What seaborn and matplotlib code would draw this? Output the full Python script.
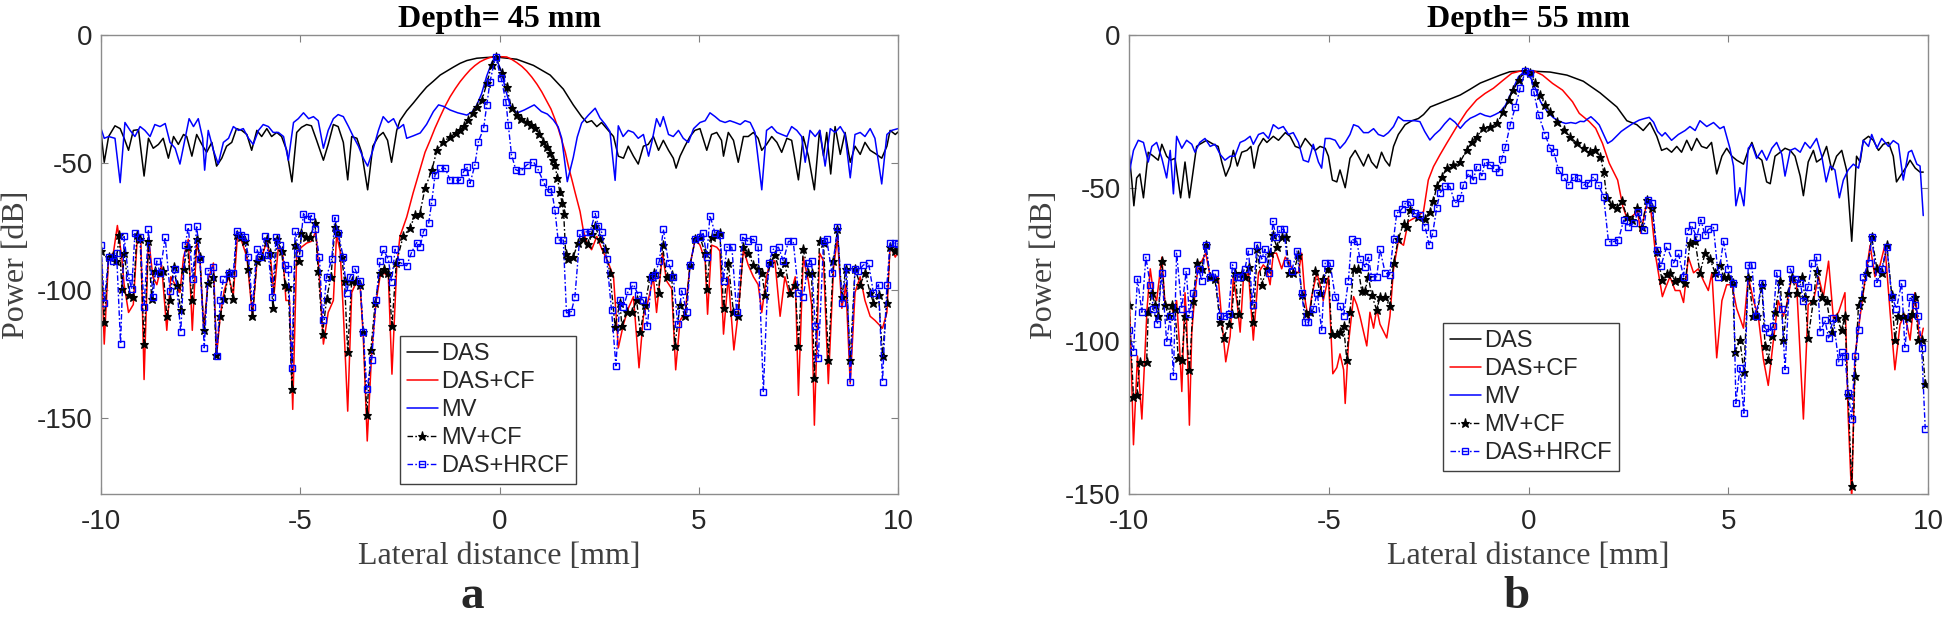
import numpy as np
import matplotlib
matplotlib.use("Agg")
import matplotlib.pyplot as plt
import seaborn as sns

# ---- panel a : depth 45 mm, (lateral distance mm, power dB) ----
a_das = [(-10.0,-38.2),(-9.92,-49.9),(-9.81,-39.8),(-9.65,-35.6),(-9.52,-36.7),(-9.42,-40.5),(-9.31,-45.2),(-9.19,-37.4),(-9.06,-37.1),(-8.92,-55.3),(-8.81,-40.5),(-8.69,-44.4),(-8.56,-42.9),(-8.44,-40.5),(-8.31,-48.3),(-8.18,-39.8),(-8.06,-42.9),(-7.93,-39.0),(-7.85,-39.8),(-7.72,-47.5),(-7.60,-39.0),(-7.47,-42.9),(-7.35,-46.0),(-7.22,-42.1),(-7.10,-51.4),(-6.97,-48.3),(-6.85,-43.6),(-6.72,-42.1),(-6.60,-36.7),(-6.47,-37.4),(-6.34,-39.0),(-6.22,-45.2),(-6.09,-37.4),(-5.97,-39.8),(-5.84,-36.7),(-5.72,-39.8),(-5.59,-38.2),(-5.47,-39.8),(-5.34,-45.2),(-5.21,-57.6),(-5.09,-38.2),(-4.97,-36.2),(-4.84,-35.1),(-4.72,-35.6),(-4.59,-41.3),(-4.42,-49.1),(-4.30,-42.9),(-4.17,-35.1),(-4.05,-35.9),(-3.92,-42.1),(-3.81,-56.8),(-3.71,-39.8),(-3.58,-40.5),(-3.46,-46.0),(-3.31,-60.7),(-3.18,-43.6),(-3.04,-39.8),(-2.92,-38.2),(-2.81,-41.3),(-2.71,-49.9),(-2.58,-37.4),(-2.50,-33.6),(-2.33,-29.7),(-2.16,-26.6),(-2.00,-23.5),(-1.83,-20.4),(-1.66,-18.1),(-1.49,-15.7),(-1.33,-14.2),(-1.16,-12.6),(-0.99,-11.1),(-0.82,-10.0),(-0.57,-9.1),(-0.32,-8.8),(-0.10,-8.6),(0.43,-9.5),(0.85,-11.9),(1.27,-15.7),(1.60,-21.2),(1.85,-27.4),(2.06,-32.0),(2.19,-34.3),(2.31,-33.6),(2.44,-35.9),(2.56,-34.3),(2.69,-36.7),(2.86,-39.8),(2.98,-47.5),(3.11,-48.3),(3.23,-43.6),(3.36,-47.5),(3.48,-50.6),(3.61,-43.6),(3.73,-42.9),(3.86,-39.8),(3.99,-45.2),(4.11,-41.3),(4.24,-45.2),(4.36,-48.3),(4.43,-52.2),(4.53,-47.5),(4.65,-43.6),(4.78,-39.8),(4.90,-37.4),(5.03,-36.7),(5.20,-45.2),(5.32,-39.0),(5.45,-38.2),(5.57,-41.3),(5.62,-47.5),(5.74,-38.2),(5.87,-41.3),(5.99,-49.9),(6.12,-39.8),(6.24,-39.8),(6.37,-38.2),(6.49,-40.5),(6.58,-45.2),(6.70,-42.9),(6.83,-39.8),(6.96,-42.1),(7.08,-46.0),(7.21,-40.5),(7.33,-41.3),(7.50,-56.8),(7.62,-39.8),(7.75,-47.5),(7.90,-60.7),(8.03,-37.4),(8.13,-47.5),(8.21,-38.2),(8.31,-54.5),(8.42,-35.9),(8.55,-46.8),(8.67,-38.2),(8.80,-49.9),(8.92,-43.6),(9.05,-46.8),(9.17,-42.1),(9.30,-45.2),(9.46,-46.8),(9.59,-48.3),(9.72,-43.6),(9.80,-37.4),(9.93,-39.0),(10.0,-38.0)]

a_cf = [(-10.0,-84.0),(-9.92,-121.2),(-9.81,-87.1),(-9.69,-85.5),(-9.59,-74.7),(-9.48,-87.1),(-9.42,-97.9),(-9.31,-108.8),(-9.19,-105.7),(-9.09,-79.3),(-9.0,-80.9),(-8.92,-135.1),(-8.81,-79.3),(-8.70,-94.8),(-8.60,-97.9),(-8.48,-90.2),(-8.35,-115.8),(-8.25,-94.8),(-8.14,-97.9),(-8.02,-101.0),(-7.93,-87.1),(-7.81,-80.1),(-7.71,-115.8),(-7.60,-81.6),(-7.52,-87.1),(-7.42,-115.8),(-7.31,-95.6),(-7.18,-89.4),(-7.10,-125.8),(-7.01,-110.3),(-6.91,-100.3),(-6.80,-94.8),(-6.68,-101.8),(-6.58,-79.3),(-6.47,-80.9),(-6.34,-87.1),(-6.20,-110.3),(-6.09,-89.4),(-5.97,-87.1),(-5.84,-80.9),(-5.74,-88.6),(-5.66,-101.8),(-5.55,-83.2),(-5.44,-85.5),(-5.36,-104.1),(-5.27,-104.1),(-5.19,-146.8),(-5.09,-85.5),(-4.97,-83.2),(-4.84,-81.6),(-4.72,-80.9),(-4.61,-77.0),(-4.52,-94.8),(-4.42,-121.2),(-4.30,-108.8),(-4.17,-104.1),(-4.09,-78.5),(-4.00,-84.7),(-3.92,-108.8),(-3.81,-147.5),(-3.71,-101.0),(-3.60,-97.1),(-3.50,-97.9),(-3.42,-118.1),(-3.32,-159.2),(-3.21,-125.1),(-3.10,-104.9),(-3.0,-94.8),(-2.90,-93.3),(-2.79,-94.8),(-2.70,-133.0),(-2.58,-90.9),(-2.50,-79.0),(-2.33,-71.4),(-2.17,-62.0),(-2.0,-53.0),(-1.87,-46.0),(-1.74,-41.2),(-1.62,-36.5),(-1.49,-32.0),(-1.37,-28.0),(-1.24,-24.2),(-1.11,-21.0),(-0.99,-18.3),(-0.86,-15.8),(-0.74,-13.7),(-0.62,-12.0),(-0.49,-10.5),(-0.36,-9.5),(-0.24,-8.8),(-0.10,-8.5),(0.05,-8.5),(0.18,-8.6),(0.30,-9.5),(0.43,-10.8),(0.56,-12.3),(0.68,-14.1),(0.81,-16.5),(0.94,-19.3),(1.06,-22.3),(1.18,-25.8),(1.29,-29.0),(1.39,-33.0),(1.48,-37.0),(1.56,-41.2),(1.65,-46.0),(1.73,-51.6),(1.82,-57.0),(1.90,-62.0),(2.02,-69.2),(2.10,-76.4),(2.19,-81.6),(2.31,-84.2),(2.44,-79.0),(2.57,-84.0),(2.73,-89.3),(2.86,-94.8),(2.98,-122.7),(3.11,-113.4),(3.23,-107.2),(3.36,-102.6),(3.50,-130.5),(3.61,-110.3),(3.73,-104.1),(3.86,-94.8),(3.94,-108.8),(4.09,-85.5),(4.19,-96.4),(4.32,-99.5),(4.42,-131.3),(4.53,-111.9),(4.66,-108.8),(4.78,-90.2),(4.91,-80.1),(5.03,-82.4),(5.16,-88.6),(5.22,-109.5),(5.32,-82.4),(5.45,-83.2),(5.53,-84.7),(5.62,-117.3),(5.74,-94.8),(5.88,-123.5),(5.99,-108.8),(6.12,-84.0),(6.24,-90.2),(6.37,-94.8),(6.49,-97.9),(6.58,-108.8),(6.69,-95.6),(6.79,-88.6),(6.91,-88.6),(7.04,-110.3),(7.16,-94.8),(7.29,-102.6),(7.42,-94.8),(7.50,-141.3),(7.62,-87.1),(7.75,-96.4),(7.83,-105.7),(7.90,-153.0),(8.03,-85.5),(8.13,-88.6),(8.25,-136.7),(8.38,-91.7),(8.48,-79.3),(8.59,-107.2),(8.69,-97.9),(8.80,-136.7),(8.92,-101.0),(9.05,-94.8),(9.17,-104.1),(9.30,-110.3),(9.42,-111.9),(9.61,-115.0),(9.72,-108.8),(9.80,-82.4),(9.93,-87.1),(10.0,-85.0)]

a_mv = [(-10.0,-36.7),(-9.92,-40.5),(-9.81,-39.8),(-9.65,-40.5),(-9.52,-57.9),(-9.40,-34.3),(-9.27,-37.4),(-9.15,-39.8),(-9.02,-35.9),(-8.90,-37.4),(-8.77,-39.8),(-8.65,-35.1),(-8.52,-35.9),(-8.39,-34.7),(-8.27,-42.1),(-8.14,-44.4),(-8.02,-50.6),(-7.89,-40.5),(-7.79,-32.8),(-7.68,-35.9),(-7.56,-32.8),(-7.45,-40.5),(-7.40,-53.0),(-7.31,-37.4),(-7.18,-45.2),(-7.06,-50.6),(-6.93,-42.1),(-6.80,-40.5),(-6.68,-35.9),(-6.55,-37.4),(-6.43,-36.7),(-6.30,-40.5),(-6.18,-42.9),(-6.05,-37.4),(-5.93,-35.1),(-5.80,-35.9),(-5.68,-38.2),(-5.55,-38.2),(-5.42,-39.8),(-5.30,-49.1),(-5.17,-34.3),(-5.05,-32.8),(-4.92,-30.5),(-4.79,-32.8),(-4.67,-32.0),(-4.55,-33.6),(-4.42,-44.4),(-4.30,-37.4),(-4.17,-32.8),(-4.05,-31.2),(-3.92,-32.0),(-3.79,-35.9),(-3.67,-39.8),(-3.54,-43.6),(-3.42,-48.3),(-3.31,-51.4),(-3.18,-45.2),(-3.04,-37.4),(-2.92,-32.0),(-2.79,-34.3),(-2.66,-32.8),(-2.54,-36.7),(-2.41,-35.1),(-2.33,-40.5),(-2.16,-39.5),(-1.99,-38.4),(-1.83,-35.0),(-1.66,-30.0),(-1.53,-27.4),(-1.40,-28.0),(-1.24,-29.4),(-1.05,-30.5),(-0.82,-31.4),(-0.68,-30.0),(-0.57,-27.4),(-0.45,-23.0),(-0.32,-16.0),(-0.20,-11.0),(-0.10,-8.5),(0.04,-14.0),(0.16,-22.0),(0.29,-28.7),(0.45,-30.5),(0.62,-29.4),(0.87,-27.4),(1.05,-30.0),(1.20,-31.0),(1.35,-33.3),(1.47,-36.0),(1.56,-40.5),(1.70,-57.5),(1.85,-48.0),(1.95,-40.0),(2.06,-34.5),(2.23,-31.4),(2.40,-28.7),(2.52,-32.5),(2.65,-35.0),(2.77,-37.8),(2.90,-57.0),(2.98,-35.6),(3.10,-39.8),(3.23,-37.4),(3.36,-38.2),(3.48,-40.5),(3.61,-39.0),(3.74,-47.5),(3.82,-42.1),(3.94,-32.8),(4.03,-35.9),(4.11,-32.0),(4.24,-39.0),(4.36,-39.8),(4.49,-37.4),(4.61,-40.5),(4.74,-42.1),(4.87,-36.7),(5.03,-34.3),(5.16,-33.6),(5.28,-30.5),(5.41,-32.0),(5.53,-33.6),(5.66,-34.3),(5.78,-33.6),(5.91,-34.3),(6.04,-35.1),(6.16,-33.6),(6.29,-34.3),(6.41,-38.2),(6.58,-60.7),(6.70,-37.4),(6.83,-35.9),(6.96,-38.2),(7.08,-39.0),(7.21,-39.8),(7.33,-35.9),(7.46,-37.4),(7.58,-39.8),(7.67,-49.9),(7.79,-37.4),(7.92,-39.8),(8.04,-37.4),(8.17,-51.4),(8.30,-36.7),(8.42,-38.2),(8.55,-35.9),(8.67,-39.0),(8.80,-56.0),(8.92,-39.0),(9.05,-38.2),(9.17,-39.8),(9.30,-36.7),(9.42,-40.5),(9.59,-58.4),(9.72,-39.0),(9.84,-37.4),(10.0,-36.7)]

a_mvcf = [(-10.0,-84.8),(-9.92,-112.6),(-9.81,-87.1),(-9.71,-86.8),(-9.62,-88.6),(-9.54,-78.5),(-9.48,-99.5),(-9.42,-85.5),(-9.29,-101.8),(-9.19,-102.6),(-9.10,-78.5),(-9.02,-80.1),(-8.92,-121.2),(-8.81,-80.9),(-8.73,-103.4),(-8.65,-92.5),(-8.52,-93.3),(-8.44,-92.5),(-8.35,-110.3),(-8.27,-104.1),(-8.18,-90.9),(-8.10,-97.9),(-8.0,-108.0),(-7.93,-91.7),(-7.83,-83.2),(-7.72,-104.1),(-7.60,-80.1),(-7.52,-87.1),(-7.42,-115.8),(-7.31,-97.1),(-7.18,-94.8),(-7.11,-125.5),(-7.01,-110.3),(-6.91,-103.4),(-6.80,-93.3),(-6.70,-103.4),(-6.60,-78.5),(-6.50,-79.3),(-6.39,-80.9),(-6.30,-91.7),(-6.20,-110.3),(-6.09,-88.6),(-5.97,-87.1),(-5.84,-80.1),(-5.76,-85.5),(-5.69,-107.2),(-5.59,-80.1),(-5.47,-84.7),(-5.38,-97.9),(-5.30,-98.7),(-5.21,-139.0),(-5.13,-82.4),(-5.03,-88.6),(-4.97,-77.8),(-4.86,-79.3),(-4.76,-79.3),(-4.63,-73.9),(-4.55,-92.5),(-4.44,-117.3),(-4.34,-103.4),(-4.23,-94.8),(-4.13,-75.4),(-4.05,-77.8),(-3.96,-87.1),(-3.89,-96.4),(-3.81,-124.3),(-3.71,-96.4),(-3.60,-96.4),(-3.50,-97.9),(-3.42,-116.5),(-3.33,-149.1),(-3.23,-123.5),(-3.12,-104.9),(-3.0,-93.3),(-2.90,-91.7),(-2.79,-93.3),(-2.70,-114.2),(-2.59,-89.3),(-2.42,-79.0),(-2.25,-75.8),(-2.12,-70.6),(-2.0,-70.0),(-1.87,-60.1),(-1.70,-53.0),(-1.57,-45.1),(-1.41,-41.8),(-1.24,-39.9),(-1.10,-38.5),(-0.99,-37.3),(-0.88,-35.5),(-0.78,-33.3),(-0.67,-30.5),(-0.57,-28.1),(-0.44,-25.5),(-0.32,-19.0),(-0.20,-11.8),(-0.10,-8.5),(0.05,-15.0),(0.18,-20.2),(0.30,-28.7),(0.43,-31.4),(0.55,-33.0),(0.68,-34.0),(0.79,-35.2),(0.89,-36.6),(1.0,-39.0),(1.10,-41.8),(1.18,-44.0),(1.26,-46.4),(1.33,-49.0),(1.39,-51.0),(1.45,-56.0),(1.51,-61.4),(1.57,-66.0),(1.61,-70.0),(1.66,-86.0),(1.72,-88.0),(1.85,-87.0),(1.97,-81.4),(2.10,-80.0),(2.23,-82.0),(2.32,-78.0),(2.40,-75.0),(2.52,-80.0),(2.65,-84.0),(2.77,-93.4),(2.90,-114.4),(3.02,-105.0),(3.07,-114.2),(3.19,-108.8),(3.32,-108.8),(3.44,-104.1),(3.53,-116.5),(3.65,-105.7),(3.78,-94.8),(3.88,-93.3),(3.99,-101.0),(4.09,-82.4),(4.19,-94.8),(4.32,-94.0),(4.40,-121.9),(4.53,-105.7),(4.66,-110.3),(4.78,-90.2),(4.91,-80.1),(5.03,-79.3),(5.16,-85.5),(5.20,-99.5),(5.32,-79.3),(5.45,-78.5),(5.53,-77.8),(5.62,-107.2),(5.74,-89.4),(5.87,-108.8),(5.99,-110.3),(6.12,-83.2),(6.24,-85.5),(6.37,-90.2),(6.49,-91.7),(6.58,-93.3),(6.66,-101.8),(6.79,-89.4),(6.91,-86.3),(7.04,-93.3),(7.16,-89.4),(7.29,-101.0),(7.42,-97.9),(7.50,-121.9),(7.62,-84.0),(7.75,-93.3),(7.83,-93.3),(7.90,-134.4),(8.03,-80.9),(8.13,-81.6),(8.25,-127.4),(8.38,-88.6),(8.48,-76.2),(8.59,-102.6),(8.69,-91.7),(8.80,-127.4),(8.92,-91.7),(9.05,-97.9),(9.17,-93.3),(9.30,-101.0),(9.38,-104.9),(9.51,-101.8),(9.61,-125.8),(9.72,-104.9),(9.80,-83.2),(9.93,-84.7),(10.0,-84.0)]

a_hrcf = [(-10.0,-82.4),(-9.92,-104.9),(-9.81,-87.1),(-9.69,-88.6),(-9.61,-85.5),(-9.51,-121.2),(-9.42,-79.0),(-9.31,-94.8),(-9.23,-99.5),(-9.15,-77.8),(-9.02,-79.3),(-8.92,-106.5),(-8.81,-76.2),(-8.70,-102.6),(-8.60,-88.6),(-8.52,-93.3),(-8.39,-79.3),(-8.27,-100.3),(-8.14,-91.7),(-8.0,-116.5),(-7.89,-82.4),(-7.81,-75.4),(-7.70,-95.6),(-7.60,-74.7),(-7.52,-87.8),(-7.41,-122.7),(-7.31,-92.5),(-7.18,-90.9),(-7.10,-125.8),(-7.01,-104.1),(-6.93,-95.6),(-6.80,-93.3),(-6.68,-93.3),(-6.60,-77.0),(-6.50,-78.5),(-6.39,-79.3),(-6.30,-87.1),(-6.20,-106.5),(-6.09,-84.0),(-6.01,-87.1),(-5.88,-79.0),(-5.80,-86.3),(-5.70,-102.6),(-5.61,-79.3),(-5.51,-82.4),(-5.38,-90.2),(-5.30,-91.7),(-5.21,-130.5),(-5.13,-77.0),(-5.02,-85.5),(-4.92,-70.0),(-4.84,-72.3),(-4.72,-70.8),(-4.63,-76.2),(-4.52,-87.1),(-4.44,-111.9),(-4.34,-94.8),(-4.21,-87.8),(-4.13,-71.6),(-4.05,-77.8),(-3.92,-87.1),(-3.84,-101.0),(-3.75,-94.8),(-3.63,-91.7),(-3.50,-96.4),(-3.42,-116.5),(-3.33,-139.0),(-3.21,-127.4),(-3.10,-104.1),(-3.0,-88.6),(-2.92,-84.0),(-2.79,-87.9),(-2.71,-96.9),(-2.62,-84.0),(-2.50,-89.2),(-2.33,-90.5),(-2.21,-85.3),(-2.08,-81.4),(-1.99,-83.0),(-1.91,-77.1),(-1.78,-73.9),(-1.70,-65.4),(-1.62,-55.0),(-1.49,-52.3),(-1.36,-52.3),(-1.24,-57.0),(-1.11,-57.0),(-0.99,-57.0),(-0.90,-53.6),(-0.82,-51.6),(-0.74,-58.2),(-0.62,-51.0),(-0.53,-41.8),(-0.40,-36.6),(-0.32,-27.4),(-0.24,-18.3),(-0.10,-8.5),(0.04,-17.0),(0.16,-26.1),(0.22,-35.3),(0.30,-47.0),(0.41,-52.9),(0.53,-53.5),(0.68,-51.0),(0.85,-49.7),(0.96,-52.5),(1.10,-57.5),(1.22,-61.4),(1.30,-60.2),(1.39,-68.6),(1.47,-80.4),(1.60,-80.4),(1.68,-109.0),(1.80,-108.5),(1.89,-102.9),(2.02,-77.8),(2.14,-77.2),(2.27,-77.2),(2.40,-70.0),(2.48,-75.0),(2.56,-77.2),(2.69,-87.9),(2.81,-107.9),(2.92,-129.7),(3.02,-104.1),(3.11,-106.5),(3.23,-100.3),(3.36,-97.9),(3.48,-101.8),(3.61,-104.1),(3.71,-114.2),(3.82,-94.8),(3.90,-94.0),(4.01,-88.6),(4.11,-76.2),(4.24,-89.4),(4.36,-94.8),(4.47,-113.4),(4.57,-100.3),(4.70,-108.8),(4.78,-90.2),(4.91,-80.1),(5.03,-79.3),(5.11,-77.8),(5.20,-87.1),(5.28,-70.8),(5.41,-77.8),(5.53,-78.5),(5.62,-96.4),(5.70,-83.2),(5.83,-83.2),(5.95,-108.8),(6.10,-79.3),(6.24,-80.9),(6.37,-80.1),(6.49,-83.2),(6.62,-139.8),(6.75,-89.4),(6.87,-84.0),(7.00,-83.2),(7.12,-88.6),(7.25,-80.9),(7.37,-80.9),(7.50,-101.0),(7.62,-102.6),(7.75,-89.4),(7.83,-88.6),(7.92,-114.2),(8.00,-126.6),(8.13,-80.9),(8.21,-80.1),(8.34,-93.3),(8.48,-75.4),(8.59,-104.9),(8.71,-90.9),(8.80,-135.9),(8.92,-91.7),(9.00,-92.5),(9.13,-90.2),(9.26,-89.4),(9.38,-101.0),(9.51,-97.9),(9.61,-135.9),(9.72,-97.9),(9.80,-81.6),(9.93,-81.6),(10.0,-82.0)]

# ---- panel b : depth 55 mm ----
b_das = [(-10.0,-38.3),(-9.93,-48.0),(-9.88,-55.8),(-9.81,-46.7),(-9.73,-45.4),(-9.64,-53.2),(-9.52,-38.3),(-9.39,-39.6),(-9.27,-40.9),(-9.18,-35.7),(-9.06,-39.6),(-8.96,-40.9),(-8.85,-40.3),(-8.71,-53.2),(-8.60,-41.5),(-8.49,-53.2),(-8.31,-36.4),(-8.23,-35.7),(-8.06,-34.4),(-7.89,-35.7),(-7.77,-36.4),(-7.68,-41.5),(-7.58,-46.1),(-7.47,-42.8),(-7.39,-37.7),(-7.29,-42.8),(-7.18,-38.3),(-7.05,-37.7),(-6.95,-36.4),(-6.87,-43.5),(-6.76,-36.4),(-6.64,-33.8),(-6.55,-35.1),(-6.39,-33.1),(-6.26,-34.4),(-6.09,-31.9),(-5.97,-33.1),(-5.84,-36.4),(-5.72,-37.0),(-5.59,-33.8),(-5.47,-35.7),(-5.34,-37.7),(-5.22,-36.4),(-5.09,-37.0),(-5.01,-39.6),(-4.91,-47.4),(-4.80,-48.0),(-4.72,-44.1),(-4.59,-49.9),(-4.47,-40.3),(-4.34,-37.7),(-4.26,-39.6),(-4.13,-42.8),(-4.01,-39.0),(-3.93,-41.5),(-3.80,-43.5),(-3.68,-38.3),(-3.59,-40.9),(-3.48,-42.8),(-3.38,-36.4),(-3.26,-32.5),(-3.09,-29.3),(-2.92,-28.0),(-2.76,-27.3),(-2.63,-26.0),(-2.46,-23.5),(-2.21,-22.2),(-1.96,-20.9),(-1.71,-19.6),(-1.46,-17.7),(-1.21,-15.7),(-0.96,-14.4),(-0.71,-13.1),(-0.47,-12.0),(-0.08,-11.7),(0.54,-12.1),(0.96,-13.1),(1.37,-15.1),(1.79,-18.9),(2.21,-23.5),(2.46,-28.0),(2.71,-29.3),(2.87,-31.2),(3.04,-28.6),(3.21,-33.1),(3.33,-37.7),(3.46,-37.0),(3.58,-38.3),(3.71,-36.4),(3.83,-38.3),(3.96,-34.4),(4.08,-37.7),(4.21,-33.8),(4.33,-36.4),(4.46,-37.0),(4.58,-35.1),(4.71,-45.4),(4.84,-39.6),(4.96,-37.0),(5.09,-39.6),(5.21,-40.9),(5.38,-42.2),(5.50,-37.7),(5.59,-35.1),(5.71,-39.6),(5.84,-40.9),(5.96,-48.0),(6.05,-48.6),(6.17,-39.6),(6.30,-38.3),(6.42,-37.0),(6.55,-37.7),(6.67,-39.6),(6.80,-46.1),(6.88,-52.5),(7.00,-41.5),(7.13,-37.7),(7.21,-41.5),(7.34,-40.3),(7.46,-36.4),(7.59,-44.1),(7.71,-39.6),(7.84,-37.7),(7.96,-44.1),(8.09,-67.4),(8.21,-39.6),(8.30,-41.5),(8.38,-34.4),(8.51,-33.1),(8.63,-34.4),(8.76,-37.7),(8.88,-35.7),(9.01,-35.1),(9.13,-39.6),(9.21,-48.0),(9.34,-45.4),(9.47,-42.8),(9.55,-40.9),(9.68,-43.5),(9.80,-44.8),(9.88,-44.8)]

b_cf = [(-10.0,-81.0),(-9.89,-133.9),(-9.79,-104.9),(-9.68,-125.5),(-9.55,-89.4),(-9.47,-76.4),(-9.39,-84.2),(-9.31,-86.8),(-9.18,-72.6),(-9.10,-88.1),(-8.97,-88.1),(-8.89,-90.6),(-8.81,-86.8),(-8.74,-101.0),(-8.68,-116.5),(-8.60,-84.2),(-8.56,-93.2),(-8.49,-127.5),(-8.43,-97.1),(-8.35,-84.2),(-8.26,-74.5),(-8.18,-73.9),(-8.08,-71.3),(-7.97,-79.0),(-7.85,-79.7),(-7.77,-79.0),(-7.68,-93.2),(-7.58,-106.8),(-7.47,-98.4),(-7.39,-79.0),(-7.29,-88.1),(-7.22,-97.1),(-7.14,-80.3),(-7.01,-77.7),(-6.89,-99.7),(-6.76,-77.7),(-6.64,-75.1),(-6.56,-76.4),(-6.47,-81.6),(-6.39,-71.3),(-6.31,-71.3),(-6.18,-76.4),(-6.09,-72.6),(-6.01,-73.9),(-5.89,-77.1),(-5.76,-77.7),(-5.68,-71.3),(-5.59,-86.8),(-5.51,-93.2),(-5.43,-85.5),(-5.30,-77.7),(-5.22,-81.6),(-5.14,-86.8),(-5.01,-79.0),(-4.90,-110.7),(-4.80,-108.7),(-4.72,-104.2),(-4.63,-109.4),(-4.59,-120.4),(-4.51,-101.0),(-4.38,-85.5),(-4.30,-88.1),(-4.22,-91.9),(-4.13,-97.1),(-4.05,-101.6),(-3.97,-90.6),(-3.88,-95.8),(-3.80,-89.4),(-3.72,-94.5),(-3.55,-99.0),(-3.47,-91.9),(-3.38,-76.4),(-3.26,-67.4),(-3.13,-68.7),(-3.01,-60.9),(-2.80,-59.4),(-2.63,-57.7),(-2.51,-47.4),(-2.38,-43.0),(-2.22,-39.2),(-2.05,-35.4),(-1.80,-30.0),(-1.55,-25.0),(-1.30,-21.2),(-1.09,-19.1),(-0.88,-17.4),(-0.63,-14.7),(-0.42,-12.5),(-0.21,-11.8),(-0.08,-11.7),(0.13,-11.7),(0.35,-13.1),(0.60,-15.8),(0.85,-18.0),(1.10,-21.8),(1.27,-25.6),(1.52,-28.3),(1.68,-30.5),(1.85,-35.4),(2.02,-41.9),(2.23,-47.4),(2.36,-56.0),(2.48,-60.5),(2.61,-59.0),(2.73,-57.7),(2.81,-64.8),(2.94,-56.0),(3.06,-57.0),(3.19,-73.0),(3.35,-85.5),(3.42,-82.9),(3.54,-79.0),(3.67,-83.5),(3.79,-83.5),(3.88,-87.4),(4.00,-72.6),(4.13,-77.7),(4.25,-76.4),(4.38,-80.3),(4.50,-83.5),(4.59,-77.7),(4.71,-105.5),(4.84,-86.8),(4.96,-81.6),(5.09,-81.6),(5.21,-89.4),(5.38,-95.8),(5.50,-79.0),(5.63,-86.8),(5.75,-91.9),(5.88,-106.1),(6.00,-114.5),(6.13,-99.7),(6.25,-86.8),(6.38,-91.9),(6.46,-88.1),(6.59,-79.0),(6.71,-81.6),(6.88,-125.5),(7.00,-88.1),(7.13,-86.8),(7.26,-79.0),(7.38,-85.5),(7.51,-73.9),(7.63,-92.6),(7.76,-90.6),(7.92,-84.2),(8.00,-124.2),(8.09,-152.0),(8.17,-104.9),(8.30,-91.9),(8.42,-80.3),(8.55,-68.7),(8.67,-79.0),(8.80,-75.1),(8.92,-68.7),(9.05,-90.6),(9.17,-109.4),(9.30,-94.5),(9.42,-91.3),(9.55,-99.7),(9.67,-84.2),(9.80,-101.0),(9.88,-95.8)]

b_mv = [(-10.0,-45.4),(-9.89,-37.7),(-9.77,-34.4),(-9.64,-35.1),(-9.52,-41.5),(-9.43,-36.4),(-9.31,-35.1),(-9.18,-40.3),(-9.06,-46.7),(-8.97,-37.7),(-8.89,-51.9),(-8.81,-33.1),(-8.68,-37.0),(-8.56,-34.4),(-8.43,-35.7),(-8.35,-38.3),(-8.23,-35.1),(-8.10,-33.8),(-7.97,-36.4),(-7.85,-35.7),(-7.72,-39.0),(-7.60,-40.9),(-7.47,-39.6),(-7.35,-39.6),(-7.22,-35.1),(-7.10,-34.4),(-6.97,-33.1),(-6.89,-35.7),(-6.76,-32.5),(-6.64,-31.9),(-6.51,-33.8),(-6.39,-29.3),(-6.26,-30.6),(-6.14,-29.9),(-6.01,-32.5),(-5.89,-31.9),(-5.76,-35.1),(-5.64,-40.9),(-5.51,-41.5),(-5.39,-35.7),(-5.26,-41.5),(-5.18,-43.5),(-5.09,-33.8),(-4.97,-33.8),(-4.84,-34.4),(-4.72,-37.0),(-4.59,-35.1),(-4.47,-32.5),(-4.38,-29.3),(-4.26,-29.9),(-4.13,-31.9),(-4.01,-31.9),(-3.88,-30.6),(-3.76,-32.5),(-3.63,-33.1),(-3.51,-31.9),(-3.38,-29.9),(-3.26,-26.7),(-3.13,-28.0),(-3.01,-28.0),(-2.85,-28.0),(-2.72,-28.3),(-2.60,-31.5),(-2.47,-34.3),(-2.35,-32.5),(-2.22,-31.0),(-2.10,-29.0),(-1.97,-27.2),(-1.84,-28.5),(-1.71,-30.5),(-1.58,-28.5),(-1.46,-27.2),(-1.34,-26.5),(-1.21,-25.6),(-1.09,-26.3),(-0.96,-26.7),(-0.84,-26.0),(-0.71,-25.1),(-0.58,-23.0),(-0.46,-19.6),(-0.35,-16.5),(-0.25,-13.6),(-0.08,-11.7),(0.09,-14.8),(0.20,-18.5),(0.30,-21.8),(0.41,-24.0),(0.51,-25.6),(0.62,-27.0),(0.72,-27.8),(0.83,-28.5),(0.93,-28.9),(1.06,-28.6),(1.18,-28.9),(1.29,-28.2),(1.39,-28.3),(1.47,-27.5),(1.56,-26.7),(1.67,-28.0),(1.77,-29.4),(1.88,-32.5),(1.98,-35.4),(2.09,-34.5),(2.19,-33.2),(2.32,-31.5),(2.44,-30.4),(2.60,-29.0),(2.77,-27.8),(2.90,-27.3),(3.02,-26.9),(3.13,-28.5),(3.23,-31.5),(3.34,-33.0),(3.42,-31.9),(3.58,-34.4),(3.75,-32.5),(3.92,-31.2),(4.04,-29.9),(4.17,-31.2),(4.29,-28.0),(4.46,-29.9),(4.63,-28.6),(4.79,-30.6),(4.89,-29.9),(5.04,-37.0),(5.13,-42.8),(5.19,-55.8),(5.29,-49.9),(5.39,-55.8),(5.50,-37.0),(5.59,-35.7),(5.71,-40.3),(5.84,-37.7),(5.96,-40.9),(6.09,-37.0),(6.21,-35.1),(6.34,-39.0),(6.42,-46.1),(6.55,-37.7),(6.67,-37.0),(6.80,-38.3),(6.92,-35.1),(7.05,-37.0),(7.21,-33.8),(7.34,-39.6),(7.45,-48.0),(7.55,-42.8),(7.67,-44.1),(7.78,-53.2),(7.88,-47.4),(8.00,-44.1),(8.13,-42.2),(8.26,-43.5),(8.38,-34.4),(8.51,-36.4),(8.59,-32.5),(8.72,-37.0),(8.84,-33.8),(9.01,-36.4),(9.13,-34.5),(9.26,-35.7),(9.38,-47.4),(9.51,-38.3),(9.59,-37.7),(9.72,-42.2),(9.80,-42.8),(9.88,-59.0)]

b_mvcf = [(-10.0,-88.1),(-9.89,-118.4),(-9.81,-117.8),(-9.73,-106.8),(-9.56,-106.8),(-9.52,-90.6),(-9.43,-84.2),(-9.35,-88.1),(-9.27,-91.9),(-9.18,-73.9),(-9.10,-88.1),(-9.01,-91.9),(-8.93,-88.1),(-8.85,-89.4),(-8.77,-105.5),(-8.68,-106.2),(-8.60,-91.9),(-8.49,-109.4),(-8.39,-86.8),(-8.31,-74.5),(-8.18,-76.4),(-8.08,-68.7),(-7.97,-79.0),(-7.85,-79.7),(-7.72,-93.9),(-7.62,-99.0),(-7.51,-94.5),(-7.43,-91.3),(-7.34,-77.7),(-7.26,-91.3),(-7.18,-77.7),(-7.10,-79.0),(-7.01,-75.8),(-6.89,-93.9),(-6.79,-70.0),(-6.68,-81.6),(-6.55,-76.4),(-6.47,-71.3),(-6.40,-65.5),(-6.30,-69.3),(-6.18,-66.1),(-6.08,-66.1),(-5.99,-77.7),(-5.89,-77.7),(-5.76,-71.9),(-5.68,-84.8),(-5.57,-91.3),(-5.47,-90.6),(-5.34,-77.1),(-5.22,-84.2),(-5.14,-79.7),(-5.01,-76.4),(-4.93,-97.7),(-4.80,-97.7),(-4.72,-97.1),(-4.63,-95.2),(-4.55,-106.1),(-4.47,-90.6),(-4.38,-76.4),(-4.26,-76.4),(-4.18,-83.5),(-4.09,-83.5),(-4.01,-79.0),(-3.93,-84.8),(-3.80,-90.0),(-3.72,-85.5),(-3.59,-85.5),(-3.48,-88.7),(-3.38,-74.5),(-3.26,-66.7),(-3.13,-61.6),(-3.05,-62.9),(-2.97,-57.2),(-2.76,-59.4),(-2.59,-60.0),(-2.47,-57.7),(-2.38,-54.4),(-2.30,-49.5),(-2.17,-46.3),(-2.05,-43.6),(-1.88,-42.5),(-1.71,-41.4),(-1.55,-37.6),(-1.42,-34.9),(-1.30,-33.2),(-1.13,-30.5),(-0.96,-30.0),(-0.79,-28.9),(-0.63,-25.1),(-0.50,-21.2),(-0.38,-18.0),(-0.25,-14.7),(-0.08,-11.7),(0.04,-12.5),(0.17,-15.8),(0.29,-19.6),(0.42,-22.9),(0.54,-25.1),(0.71,-28.3),(0.88,-31.0),(1.04,-33.2),(1.21,-35.4),(1.38,-37.0),(1.55,-38.1),(1.67,-37.6),(1.80,-39.8),(1.88,-44.7),(1.96,-53.4),(2.09,-55.6),(2.21,-56.5),(2.34,-54.4),(2.46,-59.4),(2.59,-60.5),(2.71,-56.6),(2.84,-62.6),(2.96,-53.9),(3.09,-56.5),(3.21,-70.8),(3.34,-80.0),(3.46,-78.0),(3.54,-77.7),(3.67,-80.3),(3.79,-79.7),(3.92,-80.9),(4.04,-68.0),(4.17,-67.4),(4.29,-77.7),(4.42,-71.3),(4.54,-73.2),(4.67,-77.7),(4.79,-75.1),(4.88,-79.0),(5.00,-79.0),(5.11,-80.9),(5.17,-103.6),(5.29,-99.7),(5.39,-110.0),(5.50,-79.0),(5.63,-91.9),(5.71,-91.9),(5.84,-81.6),(5.92,-101.6),(6.00,-106.2),(6.09,-98.4),(6.17,-90.6),(6.30,-80.3),(6.38,-99.7),(6.50,-84.2),(6.59,-79.0),(6.71,-84.2),(6.84,-79.0),(6.92,-85.5),(7.00,-99.0),(7.13,-86.8),(7.21,-77.1),(7.34,-85.5),(7.46,-86.8),(7.59,-97.1),(7.71,-92.6),(7.84,-96.5),(7.92,-91.9),(8.00,-117.8),(8.09,-147.5),(8.17,-111.3),(8.26,-88.1),(8.34,-86.1),(8.47,-77.7),(8.59,-66.1),(8.72,-76.4),(8.84,-77.7),(8.97,-68.7),(9.09,-84.8),(9.17,-99.7),(9.26,-91.9),(9.38,-91.9),(9.51,-92.6),(9.59,-91.3),(9.67,-85.5),(9.76,-99.7),(9.84,-99.7),(9.93,-113.9)]

b_hrcf = [(-10.0,-96.5),(-9.89,-103.6),(-9.79,-79.7),(-9.68,-90.6),(-9.58,-72.6),(-9.47,-81.6),(-9.39,-89.4),(-9.29,-94.5),(-9.18,-77.7),(-9.06,-100.3),(-8.97,-91.9),(-8.89,-111.3),(-8.81,-71.3),(-8.68,-89.4),(-8.57,-77.1),(-8.49,-91.3),(-8.39,-84.2),(-8.26,-76.4),(-8.18,-80.3),(-8.08,-68.7),(-7.97,-79.0),(-7.85,-77.7),(-7.72,-91.9),(-7.62,-91.9),(-7.51,-91.3),(-7.41,-75.1),(-7.31,-79.0),(-7.22,-79.0),(-7.10,-76.4),(-7.01,-70.6),(-6.91,-88.1),(-6.80,-68.7),(-6.68,-73.2),(-6.60,-70.0),(-6.49,-77.7),(-6.40,-60.9),(-6.32,-66.1),(-6.22,-63.5),(-6.12,-63.5),(-6.04,-74.5),(-5.93,-77.1),(-5.80,-70.6),(-5.68,-84.2),(-5.59,-93.9),(-5.51,-93.9),(-5.39,-89.4),(-5.29,-84.2),(-5.18,-96.5),(-5.09,-74.5),(-4.97,-74.5),(-4.84,-85.5),(-4.72,-88.7),(-4.63,-91.9),(-4.51,-80.3),(-4.43,-66.7),(-4.30,-67.4),(-4.22,-73.2),(-4.09,-75.8),(-4.01,-72.6),(-3.93,-79.0),(-3.80,-79.0),(-3.72,-70.0),(-3.59,-77.7),(-3.48,-78.4),(-3.38,-66.7),(-3.30,-58.3),(-3.18,-57.0),(-3.09,-55.1),(-2.97,-54.5),(-2.85,-58.3),(-2.72,-58.8),(-2.59,-62.6),(-2.49,-68.6),(-2.40,-64.8),(-2.30,-56.6),(-2.22,-51.7),(-2.10,-49.5),(-1.97,-49.5),(-1.84,-55.0),(-1.71,-53.4),(-1.63,-49.0),(-1.50,-45.2),(-1.38,-47.4),(-1.30,-43.0),(-1.17,-46.0),(-1.09,-41.4),(-0.96,-42.5),(-0.84,-43.6),(-0.75,-44.7),(-0.67,-40.5),(-0.58,-36.5),(-0.46,-29.4),(-0.33,-23.4),(-0.21,-17.4),(-0.08,-11.7),(0.04,-12.5),(0.13,-18.5),(0.25,-26.1),(0.42,-32.7),(0.54,-37.0),(0.63,-38.1),(0.75,-44.1),(0.88,-46.3),(1.00,-49.0),(1.13,-46.3),(1.25,-46.8),(1.38,-49.0),(1.50,-48.4),(1.63,-46.3),(1.75,-49.0),(1.88,-52.8),(2.00,-67.5),(2.13,-67.5),(2.25,-67.0),(2.38,-60.5),(2.50,-62.6),(2.63,-61.5),(2.75,-57.7),(2.88,-63.7),(2.98,-53.9),(3.09,-55.0),(3.21,-70.2),(3.31,-75.6),(3.46,-69.1),(3.63,-74.5),(3.75,-71.3),(3.88,-79.0),(3.98,-64.2),(4.08,-62.2),(4.21,-66.1),(4.31,-60.3),(4.42,-65.5),(4.50,-63.5),(4.63,-62.9),(4.75,-79.0),(4.88,-67.4),(5.00,-76.4),(5.13,-80.9),(5.19,-120.4),(5.29,-108.7),(5.39,-123.6),(5.50,-75.1),(5.59,-75.1),(5.69,-91.9),(5.84,-80.9),(5.92,-95.8),(6.03,-97.1),(6.11,-95.2),(6.21,-77.7),(6.34,-89.4),(6.42,-109.4),(6.55,-76.4),(6.67,-79.7),(6.80,-80.9),(6.88,-86.8),(7.00,-82.2),(7.09,-74.5),(7.21,-72.6),(7.30,-97.1),(7.42,-93.2),(7.51,-99.0),(7.63,-92.6),(7.76,-106.8),(7.84,-103.6),(7.92,-104.9),(8.00,-117.1),(8.09,-125.5),(8.17,-104.9),(8.26,-96.5),(8.38,-79.0),(8.51,-74.5),(8.59,-66.1),(8.72,-80.9),(8.84,-76.4),(8.97,-69.3),(9.09,-85.5),(9.21,-89.4),(9.34,-80.9),(9.42,-102.3),(9.55,-85.5),(9.67,-88.1),(9.76,-91.9),(9.84,-102.3),(9.93,-128.8)]

labels = ["DAS", "DAS+CF", "MV", "MV+CF", "DAS+HRCF"]
x_ticks = [-10, -5, 0, 5, 10]
y_ticks = [0, -50, -100, -150]

sns.set_theme(style="white")
plt.rcParams['font.family'] = ['Liberation Sans', 'DejaVu Sans']
plt.rcParams['axes.unicode_minus'] = False

dashdot = (0, (4, 1.6, 1.2, 1.6))
styles = [
    dict(color="black", lw=1.1),
    dict(color="#ff0000", lw=1.1),
    dict(color="#0000ff", lw=1.1),
    dict(color="black", lw=1.0, linestyle=dashdot, marker="*", markersize=6.5,
         markeredgecolor="black", markeredgewidth=0.8),
    dict(color="#0000ff", lw=1.0, linestyle=dashdot, marker="s", markersize=4,
         markerfacecolor="none", markeredgecolor="#0000ff", markeredgewidth=1.0),
]

fig = plt.figure(figsize=(19.43, 6.2), dpi=100)
ax_a = fig.add_axes([0.0520, 0.2032, 0.4102, 0.7403])
ax_b = fig.add_axes([0.5811, 0.2032, 0.4112, 0.7403])


def draw(ax, series, ylim, title, anchor):
    for lab, data, st in zip(labels, series, styles):
        xy = np.array(data)
        sns.lineplot(x=xy[:, 0], y=xy[:, 1], ax=ax, sort=False, estimator=None,
                     label=lab, **st)
    ax.set_xlim(-10, 10)
    ax.set_ylim(*ylim)
    ax.set_xticks(x_ticks)
    ax.set_yticks(y_ticks)
    ax.tick_params(direction="in", top=True, right=True, bottom=True, left=True,
                   length=5, width=0.8, color="#808080", labelsize=20,
                   labelcolor="#262626")
    ax.tick_params(axis="x", pad=11)
    ax.tick_params(axis="y", pad=6)
    for s in ax.spines.values():
        s.set_color("#8c8c8c")
        s.set_linewidth(1.0)
    ax.set_title(title, fontsize=23, fontweight="bold", family="Liberation Serif",
                 color="black", pad=6)
    ax.set_xlabel("Lateral distance [mm]", fontsize=23, family="Liberation Serif",
                  color="#404040", labelpad=5)
    ax.set_ylabel("Power [dB]", fontsize=23, family="Liberation Serif",
                  color="#404040", labelpad=4)
    leg = ax.legend(loc="lower left", bbox_to_anchor=anchor, borderaxespad=0,
                    frameon=True, fancybox=False, prop={"family": "Liberation Sans", "size": 17},
                    labelspacing=0.25, borderpad=0.3, handlelength=1.3,
                    handletextpad=0.15, edgecolor="#404040", framealpha=1)
    leg.get_frame().set_linewidth(1.0)


draw(ax_a, [a_das, a_cf, a_mv, a_mvcf, a_hrcf], (-180, 0), "Depth= 45 mm", (0.375, 0.022))
draw(ax_b, [b_das, b_cf, b_mv, b_mvcf, b_hrcf], (-150, 0), "Depth= 55 mm", (0.393, 0.05))

fig.text(472 / 1943, 2 / 620, "a", fontsize=34, fontweight="bold", family="Liberation Serif",
         ha="center", va="bottom")
fig.text(1517 / 1943, 2 / 620, "b", fontsize=34, fontweight="bold", family="Liberation Serif",
         ha="center", va="bottom")

fig.savefig("out.png", dpi=100)
